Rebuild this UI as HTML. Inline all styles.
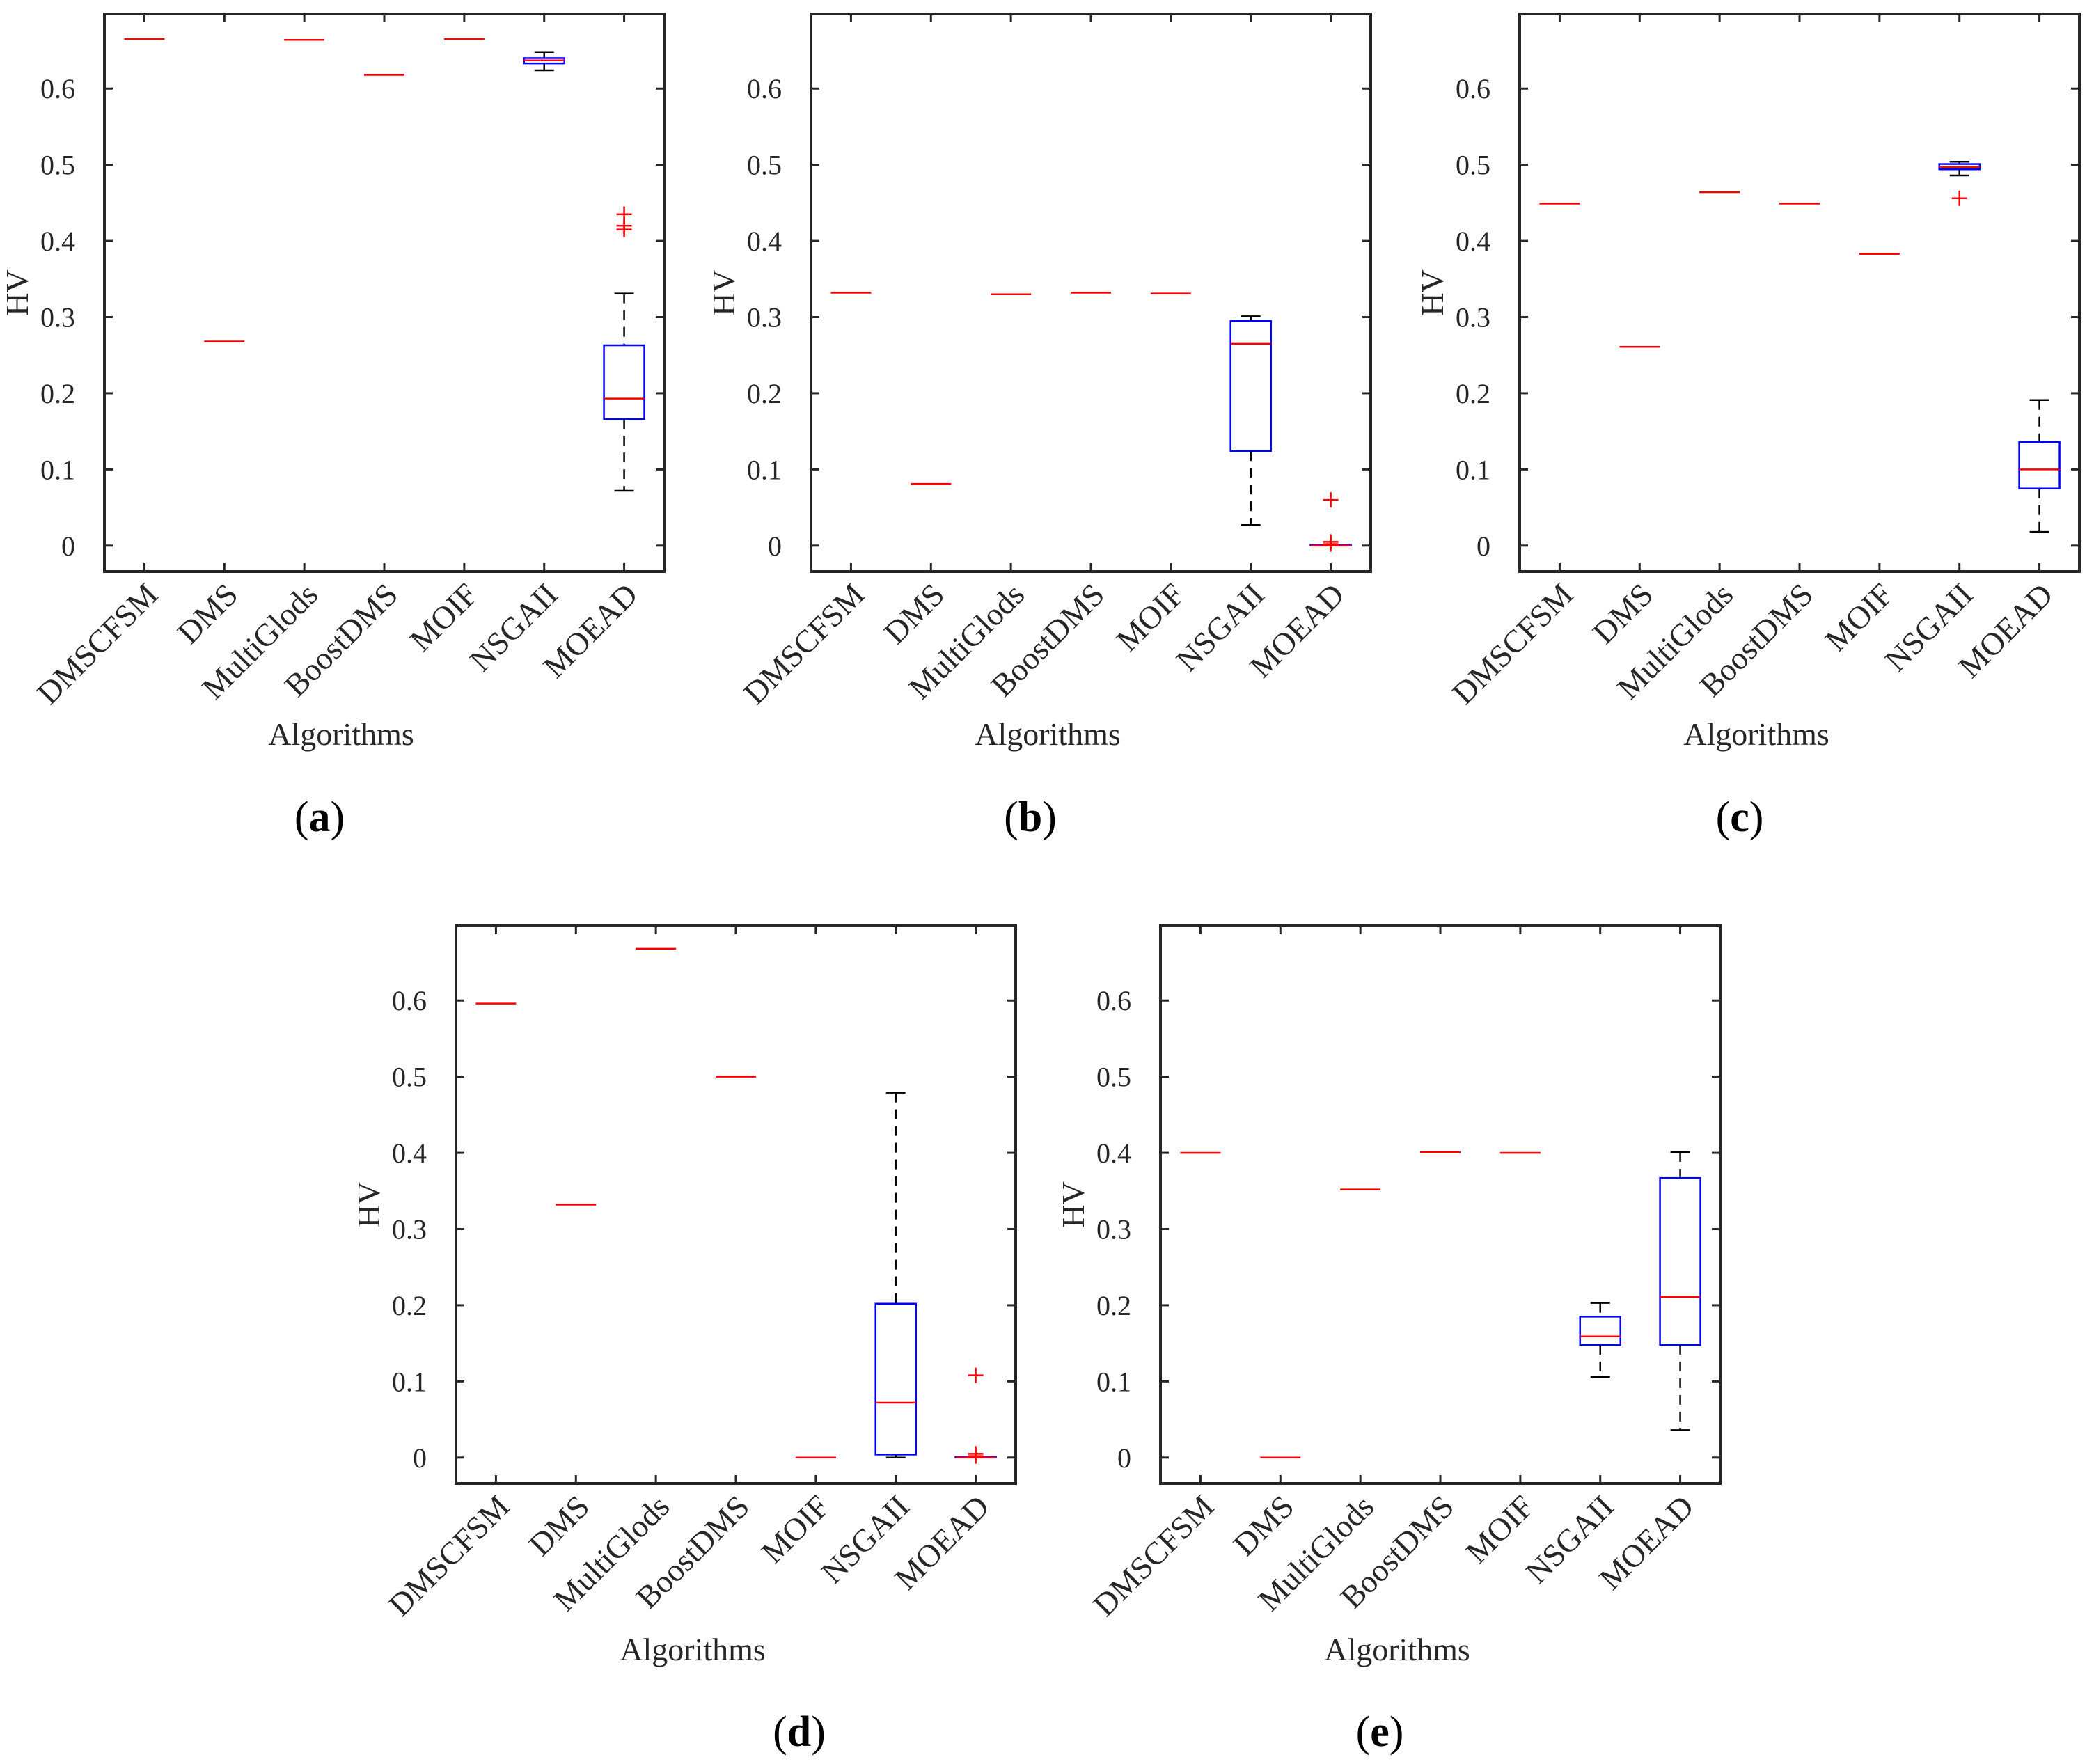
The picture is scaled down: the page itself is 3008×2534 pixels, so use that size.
<!DOCTYPE html>
<html><head><meta charset="utf-8"><style>
html,body{margin:0;padding:0;background:#fff;}
svg{display:block;font-family:"Liberation Serif",serif;}
</style></head><body>
<svg id="fig" width="3008" height="2534" viewBox="0 0 3008 2534" xmlns="http://www.w3.org/2000/svg"></svg>
<script>
const categories = ["DMSCFSM","DMS","MultiGlods","BoostDMS","MOIF","NSGAII","MOEAD"];
const yTicks = [0,0.1,0.2,0.3,0.4,0.5,0.6];
const yTickLabels = ["0","0.1","0.2","0.3","0.4","0.5","0.6"];
const panelLetters = ["(a)","(b)","(c)","(d)","(e)"];

const a_med = [0.665,0.268,0.664,0.618,0.665,0.637,0.193];
const a_q1  = [0.665,0.268,0.664,0.618,0.665,0.633,0.166];
const a_q3  = [0.665,0.268,0.664,0.618,0.665,0.640,0.263];
const a_lo  = [0.665,0.268,0.664,0.618,0.665,0.624,0.072];
const a_hi  = [0.665,0.268,0.664,0.618,0.665,0.648,0.331];
const a_out = [[],[],[],[],[],[],[0.435,0.420,0.415]];

const b_med = [0.332,0.081,0.330,0.332,0.331,0.265,0.000];
const b_q1  = [0.332,0.081,0.330,0.332,0.331,0.124,0.000];
const b_q3  = [0.332,0.081,0.330,0.332,0.331,0.295,0.001];
const b_lo  = [0.332,0.081,0.330,0.332,0.331,0.027,0.000];
const b_hi  = [0.332,0.081,0.330,0.332,0.331,0.301,0.001];
const b_out = [[],[],[],[],[],[],[0.060,0.005,0.002]];

const c_med = [0.449,0.261,0.464,0.449,0.383,0.497,0.100];
const c_q1  = [0.449,0.261,0.464,0.449,0.383,0.494,0.075];
const c_q3  = [0.449,0.261,0.464,0.449,0.383,0.501,0.136];
const c_lo  = [0.449,0.261,0.464,0.449,0.383,0.486,0.018];
const c_hi  = [0.449,0.261,0.464,0.449,0.383,0.504,0.191];
const c_out = [[],[],[],[],[],[0.456],[]];

const d_med = [0.596,0.332,0.668,0.500,0.000,0.072,0.000];
const d_q1  = [0.596,0.332,0.668,0.500,0.000,0.004,0.000];
const d_q3  = [0.596,0.332,0.668,0.500,0.000,0.202,0.001];
const d_lo  = [0.596,0.332,0.668,0.500,0.000,0.000,0.000];
const d_hi  = [0.596,0.332,0.668,0.500,0.000,0.479,0.001];
const d_out = [[],[],[],[],[],[],[0.108,0.005,0.002]];

const e_med = [0.400,0.000,0.352,0.401,0.400,0.159,0.211];
const e_q1  = [0.400,0.000,0.352,0.401,0.400,0.148,0.148];
const e_q3  = [0.400,0.000,0.352,0.401,0.400,0.185,0.367];
const e_lo  = [0.400,0.000,0.352,0.401,0.400,0.106,0.036];
const e_hi  = [0.400,0.000,0.352,0.401,0.400,0.203,0.401];
const e_out = [[],[],[],[],[],[],[]];

const panelData = [
  [a_med,a_q1,a_q3,a_lo,a_hi,a_out],
  [b_med,b_q1,b_q3,b_lo,b_hi,b_out],
  [c_med,c_q1,c_q3,c_lo,c_hi,c_out],
  [d_med,d_q1,d_q3,d_lo,d_hi,d_out],
  [e_med,e_q1,e_q3,e_lo,e_hi,e_out]
];
const layouts = [
  {l:150,t:20,label:[459,1194],alg:1070},
  {l:1165,t:20,label:[1480,1194],alg:1070},
  {l:2183,t:20,label:[2499,1194],alg:1070},
  {l:655,t:1330,label:[1148,2508],alg:2385},
  {l:1667,t:1330,label:[1982,2508],alg:2385}
];
const W=804,H=801,YMIN=-0.034,YMAX=0.698;
const NS="http://www.w3.org/2000/svg";
const svg=document.getElementById('fig');
function mk(tag,attrs,parent){const e=document.createElementNS(NS,tag);for(const k in attrs)e.setAttribute(k,attrs[k]);(parent||svg).appendChild(e);return e;}

layouts.forEach((L,p)=>{
  const g=mk('g',{});
  
  
  const xS=i=>L.l+W*(i+0.5)/7;
  const yS=v=>L.t+H*(YMAX-v)/(YMAX-YMIN);
  const bot=L.t+H, right=L.l+W;
  const [med,q1,q3,lo,hi,out]=panelData[p];
  const hw=29, cw=14;
  for(let i=0;i<7;i++){
    const x=xS(i);
    if(hi[i]>q3[i]+1e-9){
      const ln=mk('line',{x1:x,x2:x,y1:yS(hi[i]),y2:yS(q3[i]),stroke:'#000','stroke-width':2.5,'stroke-dasharray':'14,10'},g);
      
      
      const cp=mk('line',{x1:x-cw,x2:x+cw,y1:yS(hi[i]),y2:yS(hi[i]),stroke:'#000','stroke-width':2.5},g);
      
      
    }
    if(lo[i]<q1[i]-1e-9){
      const ln=mk('line',{x1:x,x2:x,y1:yS(q1[i]),y2:yS(lo[i]),stroke:'#000','stroke-width':2.5,'stroke-dasharray':'14,10'},g);
      
      
      const cp=mk('line',{x1:x-cw,x2:x+cw,y1:yS(lo[i]),y2:yS(lo[i]),stroke:'#000','stroke-width':2.5},g);
      
      
    }
    if(q3[i]>q1[i]+1e-9){
      const r=mk('rect',{x:x-hw,y:yS(q3[i]),width:2*hw,height:Math.max(1,yS(q1[i])-yS(q3[i])),fill:'none',stroke:'#0000ff','stroke-width':2.5},g);
      
      
    }
    const m=mk('line',{x1:x-hw,x2:x+hw,y1:yS(med[i]),y2:yS(med[i]),stroke:'#ff0000','stroke-width':2.5},g);
    
    
    out[i].forEach(v=>{
      const o=mk('path',{d:`M${x-11},${yS(v)}h22M${x},${yS(v)-11}v22`,stroke:'#ff0000','stroke-width':2.5,fill:'none'},g);
      
      
    });
  }
  yTicks.forEach((v,k)=>{
    const y=yS(v);
    mk('line',{x1:L.l,x2:L.l+12,y1:y,y2:y,stroke:'#262626','stroke-width':3},g);
    mk('line',{x1:right,x2:right-12,y1:y,y2:y,stroke:'#262626','stroke-width':3},g);
    const t=mk('text',{x:L.l-42,y:y+14,'text-anchor':'end','font-size':40,fill:'#262626'},g);
    t.textContent=yTickLabels[k];
    
    
  });
  categories.forEach((c,i)=>{
    const x=xS(i);
    mk('line',{x1:x,x2:x,y1:bot,y2:bot-12,stroke:'#262626','stroke-width':3},g);
    mk('line',{x1:x,x2:x,y1:L.t,y2:L.t+12,stroke:'#262626','stroke-width':3},g);
    const ax=x+22, ay=bot+36;
    const t=mk('text',{x:ax,y:ay,'text-anchor':'end','font-size':46,fill:'#262626',transform:`rotate(-45 ${ax} ${ay})`},g);
    t.textContent=c;
    
    
  });
  const fr=mk('rect',{x:L.l,y:L.t,width:W,height:H,fill:'none',stroke:'#262626','stroke-width':4},g);
  
  
  const yl=mk('text',{x:L.l-110,y:L.t+H/2,'text-anchor':'middle','font-size':46,fill:'#262626',transform:`rotate(-90 ${L.l-110} ${L.t+H/2})`},g);
  yl.textContent='HV';
  
  
  const xl=mk('text',{x:L.l+W/2-62,y:L.alg,'text-anchor':'middle','font-size':46,fill:'#262626'},g);
  xl.textContent='Algorithms';
  
  
  const pl=mk('text',{x:L.label[0],y:L.label[1],'text-anchor':'middle','font-size':62,fill:'#000'},g);
  pl.innerHTML='(<tspan font-weight="bold">'+panelLetters[p].slice(1,2)+'</tspan>)';
  
  
});
</script>
</body></html>
